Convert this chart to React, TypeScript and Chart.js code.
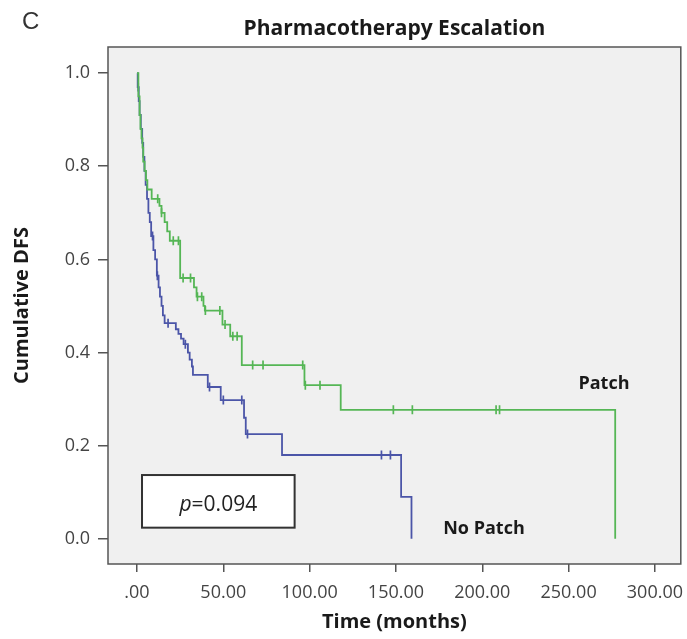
import React, { useEffect, useRef } from "react";
import { Chart, registerables } from "chart.js";

Chart.register(...registerables);

// Axis ticks
const X_TICKS = [0, 50, 100, 150, 200, 250, 300];
const Y_TICKS = [0, 0.2, 0.4, 0.6, 0.8, 1.0];

// Kaplan-Meier steps: time (months) of each drop and cumulative DFS after it
const PATCH_TIMES = [0, 0.8, 1.5, 2, 2.6, 3.2, 3.6, 4.4, 5.2, 6, 8.5, 13, 14.2, 16, 17.5, 19, 25, 33, 34.5, 38.5, 39.3, 49.5, 54, 60.7, 97, 118, 277];
const PATCH_SURV = [1.0, 0.95, 0.91, 0.88, 0.86, 0.84, 0.81, 0.79, 0.77, 0.75, 0.73, 0.715, 0.70, 0.68, 0.66, 0.64, 0.56, 0.54, 0.52, 0.50, 0.49, 0.46, 0.435, 0.373, 0.33, 0.277, 0];
const PATCH_CENSORED = [12, 14.2, 21, 24, 26.7, 31, 35, 37.5, 39.6, 48, 51, 55.5, 58, 67, 73, 96, 97.5, 106, 148.5, 159.5, 208, 210];

const NO_PATCH_TIMES = [0, 0.4, 1, 1.5, 2.2, 3, 3.6, 4.3, 5, 5.8, 6.6, 7.4, 8.2, 9.5, 10.5, 11.5, 12.5, 13.3, 14.2, 15, 16, 22.5, 24, 25.5, 27, 29.5, 30.5, 31.8, 32.4, 41, 48.5, 62, 63, 84, 153, 159];
const NO_PATCH_SURV = [1.0, 0.97, 0.94, 0.91, 0.88, 0.85, 0.82, 0.79, 0.76, 0.73, 0.70, 0.68, 0.65, 0.62, 0.60, 0.565, 0.54, 0.52, 0.50, 0.48, 0.463, 0.45, 0.44, 0.43, 0.418, 0.40, 0.385, 0.37, 0.352, 0.326, 0.298, 0.26, 0.225, 0.18, 0.09, 0];
const NO_PATCH_CENSORED = [0.7, 9, 11.8, 18, 28, 42, 50, 60.7, 64, 141.6, 146.8];

const GROUP_NAMES = ["Patch", "No Patch"];
const P_VALUE = "0.094";
const TITLE = "Pharmacotherapy Escalation";
const PANEL = "C";

const GREEN = "#55b655";
const BLUE = "#4b55a8";
const FONT = "'Open Sans', 'DejaVu Sans', sans-serif";

function survivalAt(times: number[], surv: number[], t: number): number {
  let v = surv[0];
  for (let i = 0; i < times.length; i++) {
    if (times[i] <= t) v = surv[i];
  }
  return v;
}

const stepPoints = (times: number[], surv: number[]) =>
  times.map((t, i) => ({ x: t, y: surv[i] }));

const censorPoints = (times: number[], surv: number[], cens: number[]) =>
  cens.map((t) => ({ x: t, y: survivalAt(times, surv, t) }));

// Background, frame and in-plot labels
const decorations = {
  id: "decorations",
  beforeDraw(chart: any) {
    const { ctx, chartArea: a } = chart;
    ctx.save();
    ctx.fillStyle = "#ffffff";
    ctx.fillRect(0, 0, chart.width, chart.height);
    ctx.fillStyle = "#f0f0f0";
    ctx.fillRect(a.left, a.top, a.right - a.left, a.bottom - a.top);
    ctx.restore();
  },
  afterDraw(chart: any) {
    const { ctx, chartArea: a, scales } = chart;
    const xs = scales.x;
    const ys = scales.y;
    ctx.save();

    // plot frame
    ctx.strokeStyle = "#555555";
    ctx.lineWidth = 1.5;
    ctx.strokeRect(a.left, a.top, a.right - a.left, a.bottom - a.top);

    // panel letter and title
    ctx.fillStyle = "#333333";
    ctx.textBaseline = "alphabetic";
    ctx.textAlign = "left";
    ctx.font = `24px 'Liberation Sans', Arial, sans-serif`;
    ctx.fillText(PANEL, 22, 29);

    ctx.fillStyle = "#1a1a1a";
    ctx.textAlign = "center";
    ctx.font = `bold 21px ${FONT}`;
    ctx.fillText(TITLE, (a.left + a.right) / 2, 35);

    // group labels
    ctx.font = `bold 18px ${FONT}`;
    ctx.fillStyle = "#1a1a1a";
    ctx.fillText(GROUP_NAMES[0], xs.getPixelForValue(270.5), ys.getPixelForValue(0.322));
    ctx.fillText(GROUP_NAMES[1], xs.getPixelForValue(201), ys.getPixelForValue(0.011));

    // p-value box
    const bx0 = xs.getPixelForValue(2.9);
    const bx1 = xs.getPixelForValue(91.3);
    const by0 = ys.getPixelForValue(0.137);
    const by1 = ys.getPixelForValue(0.024);
    ctx.fillStyle = "#ffffff";
    ctx.fillRect(bx0, by0, bx1 - bx0, by1 - by0);
    ctx.strokeStyle = "#333333";
    ctx.lineWidth = 2;
    ctx.strokeRect(bx0, by0, bx1 - bx0, by1 - by0);

    const italic = `italic 21px ${FONT}`;
    const regular = `21px ${FONT}`;
    ctx.font = italic;
    const wp = ctx.measureText("p").width;
    ctx.font = regular;
    const rest = "=" + P_VALUE;
    const wr = ctx.measureText(rest).width;
    const start = (bx0 + bx1) / 2 - (wp + wr) / 2;
    const base = ys.getPixelForValue(0.06);
    ctx.textAlign = "left";
    ctx.fillStyle = "#222222";
    ctx.font = italic;
    ctx.fillText("p", start, base);
    ctx.font = regular;
    ctx.fillText(rest, start + wp, base);

    ctx.restore();
  },
};

export default function App() {
  const canvasRef = useRef<HTMLCanvasElement | null>(null);

  useEffect(() => {
    if (!canvasRef.current) return;
    const chart = new Chart(canvasRef.current, {
      type: "line",
      data: {
        datasets: [
          {
            label: GROUP_NAMES[0],
            data: stepPoints(PATCH_TIMES, PATCH_SURV),
            borderColor: GREEN,
            borderWidth: 1.8,
            stepped: "before",
            pointRadius: 0,
            fill: false,
          },
          {
            label: GROUP_NAMES[0] + " censored",
            data: censorPoints(PATCH_TIMES, PATCH_SURV, PATCH_CENSORED),
            showLine: false,
            pointStyle: "line",
            pointRotation: 90,
            pointRadius: 4.5,
            pointBorderColor: GREEN,
            pointBackgroundColor: GREEN,
            pointBorderWidth: 1.7,
            borderColor: GREEN,
          },
          {
            label: GROUP_NAMES[1],
            data: stepPoints(NO_PATCH_TIMES, NO_PATCH_SURV),
            borderColor: BLUE,
            borderWidth: 1.8,
            stepped: "before",
            pointRadius: 0,
            fill: false,
          },
          {
            label: GROUP_NAMES[1] + " censored",
            data: censorPoints(NO_PATCH_TIMES, NO_PATCH_SURV, NO_PATCH_CENSORED),
            showLine: false,
            pointStyle: "line",
            pointRotation: 90,
            pointRadius: 4.5,
            pointBorderColor: BLUE,
            pointBackgroundColor: BLUE,
            pointBorderWidth: 1.7,
            borderColor: BLUE,
          },
        ],
      },
      options: {
        animation: false,
        responsive: false,
        layout: { padding: { top: 47, right: 3, bottom: 0, left: 0 } },
        plugins: {
          legend: { display: false },
          tooltip: { enabled: false },
          title: { display: false },
        },
        scales: {
          x: {
            type: "linear",
            min: -16.8,
            max: 315,
            afterBuildTicks: (s: any) => {
              s.ticks = X_TICKS.map((v) => ({ value: v }));
            },
            afterFit: (s: any) => {
              s.height = 75;
              s.paddingLeft = 0;
              s.paddingRight = 0;
            },
            grid: {
              display: true,
              drawOnChartArea: false,
              drawTicks: true,
              tickLength: 8,
              color: "#555555",
              lineWidth: 1.5,
            },
            border: { display: false },
            ticks: {
              autoSkip: false,
              maxRotation: 0,
              padding: 10,
              color: "#444444",
              font: { family: FONT, size: 18 },
              callback: (v: any) => (Number(v) === 0 ? ".00" : Number(v).toFixed(2)),
            },
            title: {
              display: true,
              text: "Time (months)",
              color: "#1a1a1a",
              font: { family: FONT, size: 20, weight: "bold" },
              padding: { top: 0, bottom: 5 },
            },
          },
          y: {
            type: "linear",
            min: -0.054,
            max: 1.056,
            afterBuildTicks: (s: any) => {
              s.ticks = Y_TICKS.map((v) => ({ value: v }));
            },
            afterFit: (s: any) => {
              s.width = 108;
              s.paddingTop = 0;
              s.paddingBottom = 0;
            },
            grid: {
              display: true,
              drawOnChartArea: false,
              drawTicks: true,
              tickLength: 10,
              color: "#555555",
              lineWidth: 1.5,
            },
            border: { display: false },
            ticks: {
              autoSkip: false,
              padding: 8,
              color: "#444444",
              font: { family: FONT, size: 18 },
              callback: (v: any) => Number(v).toFixed(1),
            },
            title: {
              display: true,
              text: "Cumulative DFS",
              color: "#1a1a1a",
              font: { family: FONT, size: 20, weight: "bold" },
              padding: { top: 10, bottom: 0 },
            },
          },
        },
      },
      plugins: [decorations],
    } as any);
    return () => chart.destroy();
  }, []);

  return (
    <div style={{ position: "absolute", left: 0, top: 0, width: 687, height: 639 }}>
      <canvas ref={canvasRef} width={687} height={639} style={{ display: "block" }} />
    </div>
  );
}
